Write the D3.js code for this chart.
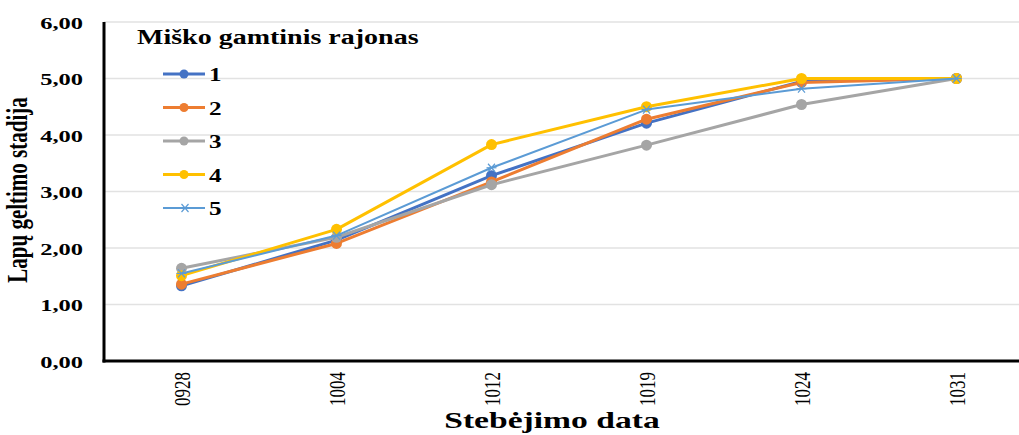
<!DOCTYPE html>
<html><head><meta charset="utf-8">
<script src="https://cdn.jsdelivr.net/npm/d3@7"></script>
<style>body{margin:0;background:#fff}svg{display:block}svg text{font-family:"Liberation Serif","Times New Roman",Times,serif !important}</style>
</head><body>
<svg id="c" width="1019" height="435"></svg>
<script>
const categories = ["0928","1004","1012","1019","1024","1031"];
const seriesNames = ["1","2","3","4","5"];
const s1 = [1.33, 2.14, 3.28, 4.21, 4.95, 5.00];
const s2 = [1.36, 2.08, 3.17, 4.28, 4.93, 5.00];
const s3 = [1.64, 2.19, 3.12, 3.82, 4.54, 5.00];
const s4 = [1.51, 2.33, 3.83, 4.50, 5.00, 5.00];
const s5 = [1.55, 2.22, 3.42, 4.45, 4.82, 5.00];
const yTicks = [0,1,2,3,4,5,6];
const legendTitle = "Miško gamtinis rajonas";
const yTitle = "Lapų geltimo stadija";
const xTitle = "Stebėjimo data";

(function(){
const colors = ["#4472C4","#ED7D31","#A5A5A5","#FFC000","#5B9BD5"];
const allSeries = [s1,s2,s3,s4,s5];
const SX = 1.4;
const FF = '"Liberation Serif", "Times New Roman", serif';

const svg = d3.select("#c");
const mLeft = 104, mRight = 1034, mTop = 22, mBottom = 361;
const x = d3.scalePoint().domain(categories).range([mLeft, mRight]).padding(0.5);
const y = d3.scaleLinear().domain([0,6]).range([mBottom, mTop]);

// gridlines
svg.append("g").selectAll("line").data(yTicks.filter(d=>d>0)).join("line")
  .attr("x1", mLeft).attr("x2", 1019)
  .attr("y1", d=>y(d)).attr("y2", d=>y(d))
  .attr("stroke", "#e2e2e2").attr("stroke-width", 1.3);

// y axis
const ya = svg.append("g").attr("transform", `translate(${mLeft},0)`)
  .call(d3.axisLeft(y).tickValues(yTicks).tickSize(0).tickFormat(d=>d3.format(".2f")(d).replace(".",",")));
ya.attr("font-family", FF).attr("font-size", null);
ya.select(".domain").remove();
ya.selectAll("text").attr("x",0).attr("dy",null)
  .attr("transform","translate(-21,6) scale("+SX+",1)")
  .style("font-size","17.5px").style("font-weight","bold").attr("fill","#000");

// x axis
const xa = svg.append("g").attr("transform", `translate(0,${mBottom})`)
  .call(d3.axisBottom(x).tickSize(0));
xa.attr("font-family", FF).attr("font-size", null);
xa.select(".domain").remove();
xa.selectAll("text").attr("x",0).attr("y",0).attr("dy","0.35em")
  .attr("text-anchor","end")
  .attr("transform","translate(0,11) scale("+SX+",1) rotate(-90)")
  .style("font-size","17px").style("font-weight","normal").attr("fill","#000");

// axis lines
svg.append("line").attr("x1",mLeft).attr("x2",mLeft).attr("y1",mTop).attr("y2",mBottom+1.5)
  .attr("stroke","#000").attr("stroke-width",3);
svg.append("line").attr("x1",mLeft-1.5).attr("x2",1019).attr("y1",mBottom).attr("y2",mBottom)
  .attr("stroke","#000").attr("stroke-width",3);

const starLines = [[-5,0,5,0],[-3.5,-4,3.5,4],[-3.5,4,3.5,-4]];
// series
const line = d3.line().x((d,i)=>x(categories[i])).y(d=>y(d));
allSeries.forEach((s,k)=>{
  const g = svg.append("g");
  g.append("path").datum(s).attr("d", line).attr("fill","none")
    .attr("stroke", colors[k]).attr("stroke-width", k===4?2:3).attr("stroke-linejoin","round");
  if (k < 4) {
    g.selectAll("circle").data(s).join("circle")
      .attr("cx",(d,i)=>x(categories[i])).attr("cy",d=>y(d)).attr("r",5.5).attr("fill",colors[k]);
  } else {
    s.forEach((d,i)=>{
      const cx = x(categories[i]), cy = y(d);
      starLines.forEach(l=>{
        g.append("line").attr("x1",cx+l[0]).attr("y1",cy+l[1]).attr("x2",cx+l[2]).attr("y2",cy+l[3])
          .attr("stroke",colors[k]).attr("stroke-width",1.2);
      });
    });
  }
});

// legend
svg.append("text").attr("transform","translate(137,44) scale("+SX+",1)")
  .style("font-size","20px").style("font-weight","bold").text(legendTitle);
const lg = svg.append("g");
seriesNames.forEach((n,k)=>{
  const ly = 74 + k*33.5;
  lg.append("line").attr("x1",163).attr("x2",205).attr("y1",ly).attr("y2",ly)
    .attr("stroke",colors[k]).attr("stroke-width",k===4?2:3);
  if (k<4) {
    lg.append("circle").attr("cx",184).attr("cy",ly).attr("r",4.5).attr("fill",colors[k]);
  } else {
    starLines.forEach(l=>{
      lg.append("line").attr("x1",185+l[0]).attr("y1",ly+l[1]).attr("x2",185+l[2]).attr("y2",ly+l[3])
        .attr("stroke",colors[k]).attr("stroke-width",1.2);
    });
  }
  lg.append("text").attr("transform",`translate(209,${ly+7}) scale(${SX},1)`)
    .style("font-size","18px").style("font-weight","bold").text(n);
});

// axis titles
svg.append("text").attr("text-anchor","middle")
  .attr("transform","translate(27,190) scale("+SX+",1) rotate(-90)")
  .style("font-size","21px").style("font-weight","bold").text(yTitle);
svg.append("text").attr("text-anchor","middle")
  .attr("transform","translate(552,428) scale("+SX+",1)")
  .style("font-size","24px").style("font-weight","bold").text(xTitle);
})();
</script>
</body></html>
